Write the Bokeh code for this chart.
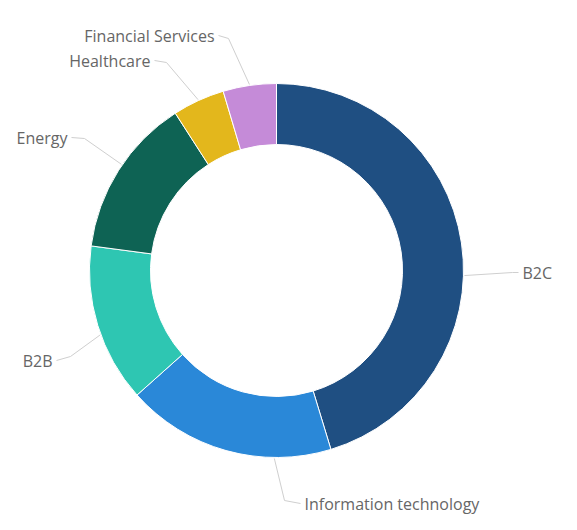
import math
from bokeh.plotting import figure
from bokeh.models import Range1d, ColumnDataSource
from bokeh.core.properties import value
from bokeh.embed import file_html
from bokeh.resources import INLINE

# ---- data ----
categories = ["B2C", "Information technology", "B2B", "Energy", "Healthcare", "Financial Services"]
shares = [45.3, 18.1, 13.7, 13.8, 4.5, 4.6]
colors = ["#1f4f82", "#2a88d8", "#2ec6b2", "#0e6354", "#e3b71c", "#c58bd8"]

# ---- layout (screen px) ----
W, H = 561, 514
CX, CY = 276, 270
R_OUT, R_IN = 187, 126

def sy(y):
    return 530 - y

p = figure(width=W, height=H, output_backend="svg", toolbar_location=None,
           x_range=Range1d(0, W), y_range=Range1d(530 - H, 530),
           x_axis_type=None, y_axis_type=None, min_border=0)
p.grid.visible = False
p.outline_line_color = None
p.background_fill_color = "white"
p.border_fill_color = "white"

total = sum(shares)
starts, ends, mids = [], [], []
acc = 0.0
for s in shares:
    t0 = acc / total * 2 * math.pi
    acc += s
    t1 = acc / total * 2 * math.pi
    starts.append(math.pi / 2 - t0)
    ends.append(math.pi / 2 - t1)
    mids.append((t0 + t1) / 2)

src = ColumnDataSource(dict(start=starts, end=ends, color=colors, cat=categories))
p.annular_wedge(x=CX, y=sy(CY), inner_radius=R_IN, outer_radius=R_OUT,
                start_angle="start", end_angle="end", direction="clock",
                fill_color="color", line_color="white", line_width=1, source=src)

# label layout: connector angle nudge (deg), elbow point, label anchor, alignment
label_layout = {
    "B2C": dict(nudge=10, elbow=(512, 272), anchor=(522, 272), align="left"),
    "Information technology": dict(nudge=-15, elbow=(284, 500), anchor=(304, 503), align="left"),
    "B2B": dict(nudge=-3, elbow=(70, 356), anchor=(52, 360), align="right"),
    "Energy": dict(nudge=2, elbow=(84, 138), anchor=(67, 137), align="right"),
    "Healthcare": dict(nudge=0, elbow=(166, 62), anchor=(150, 60), align="right"),
    "Financial Services": dict(nudge=0, elbow=(228, 38), anchor=(214, 35), align="right"),
}

for cat, m in zip(categories, mids):
    L = label_layout[cat]
    a = m + math.radians(L["nudge"])
    x0 = CX + (R_OUT + 1) * math.sin(a)
    y0 = CY - (R_OUT + 1) * math.cos(a)
    ex, ey = L["elbow"]
    ax, ay = L["anchor"]
    endx = ax - 4 if L["align"] == "left" else ax + 4
    p.line([x0, ex, endx], [sy(y0), sy(ey), sy(ay)], line_color="#cfcfcf", line_width=1)
    p.text(x=[ax], y=[sy(ay)], text=[cat], text_align=L["align"], text_baseline="middle",
           text_font=value("Open Sans"), text_font_size="16px", text_color="#666666")

open("out.html", "w").write(file_html(p, INLINE))
